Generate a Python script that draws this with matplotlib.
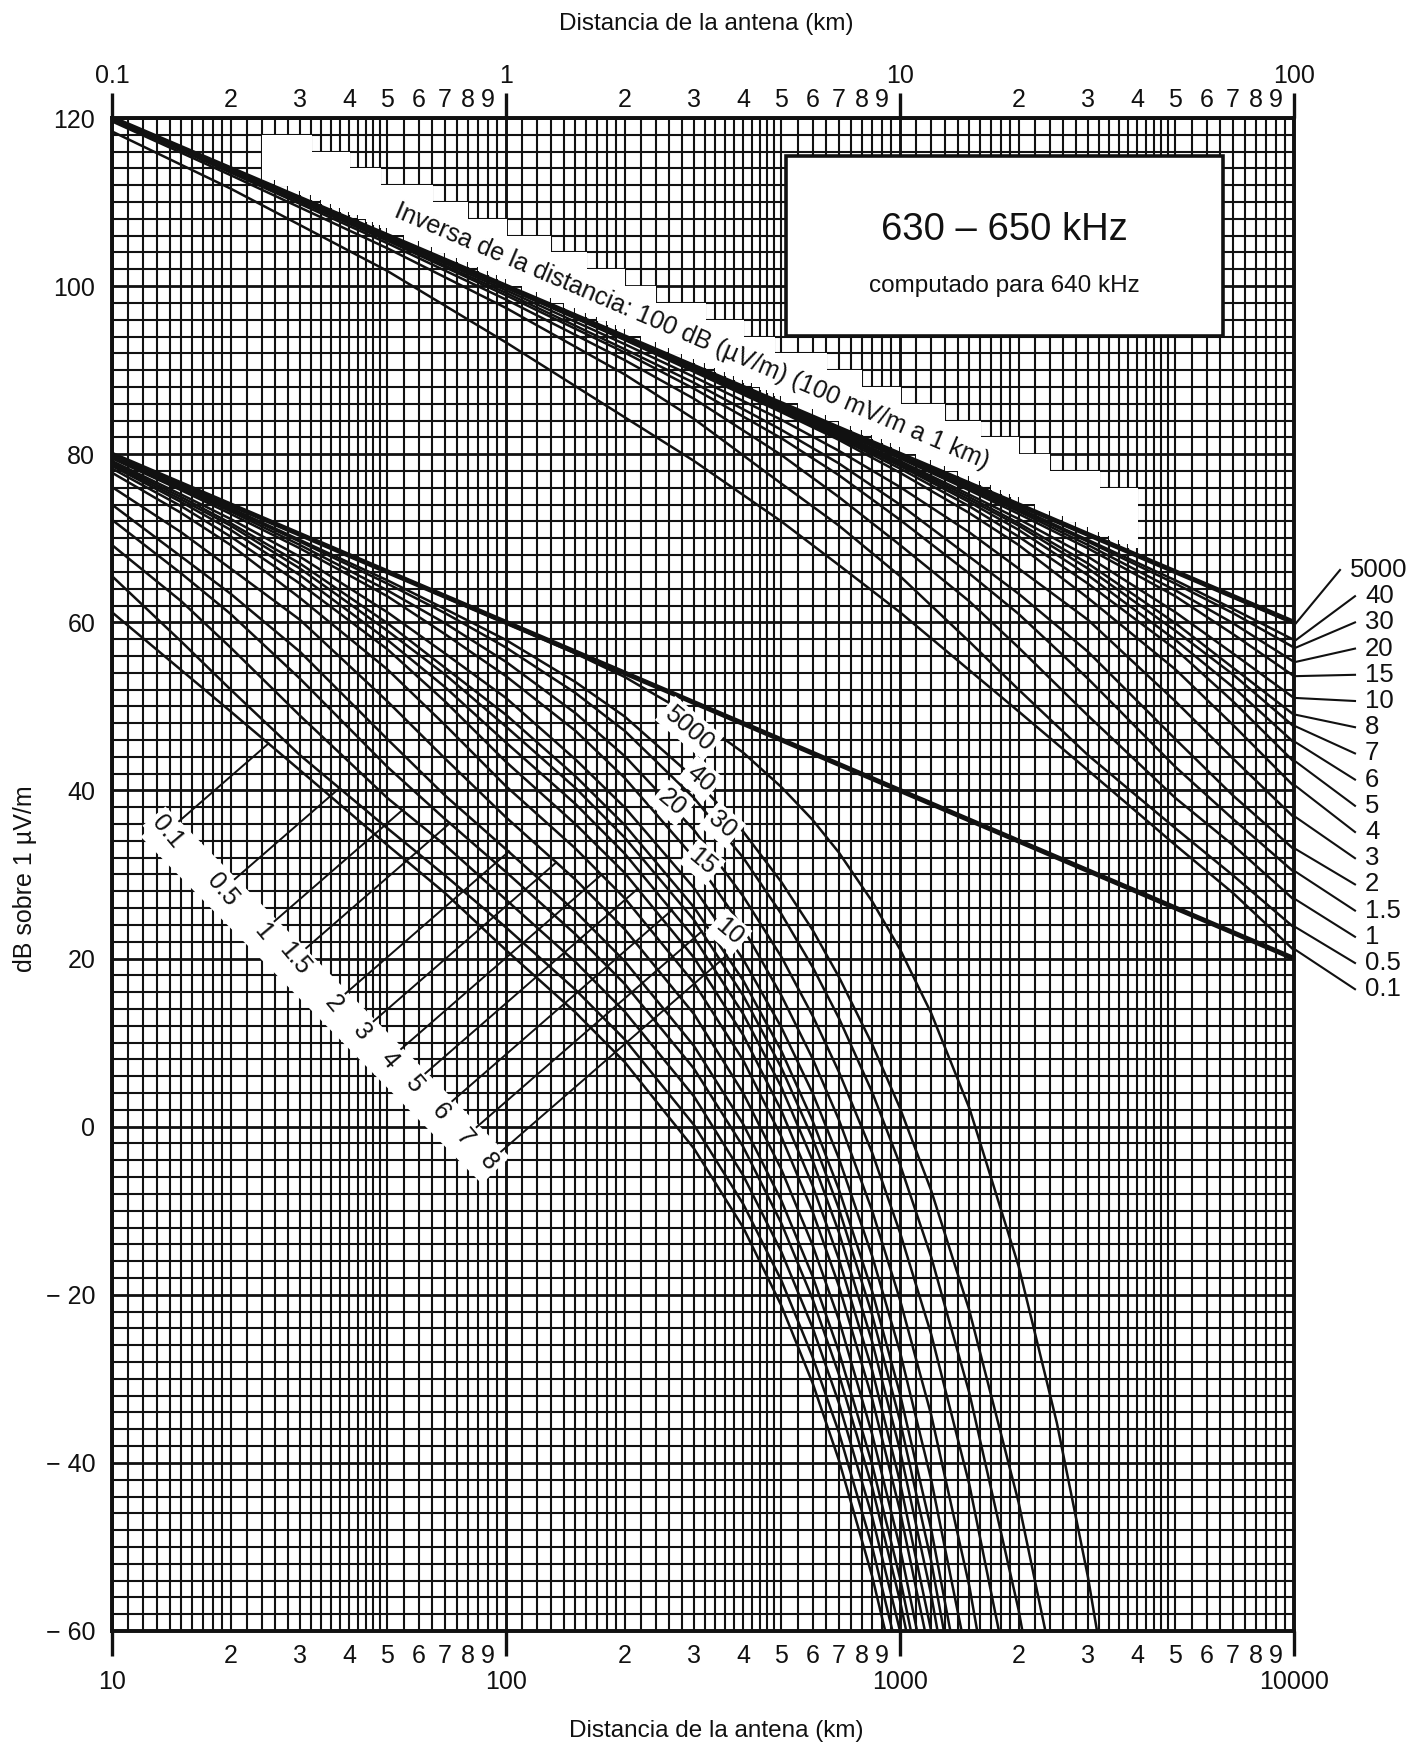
import numpy as np
import matplotlib
matplotlib.use("Agg")
import matplotlib.pyplot as plt
from matplotlib.lines import Line2D
from matplotlib.patches import Rectangle

plt.rcParams["font.family"] = ["Liberation Sans", "DejaVu Sans"]
INK = "#111111"
nan = float("nan")

# distance from the antenna (km); upper family uses 0.1-100, lower family 10-10000
dist_km = [0.1, 0.2, 0.5, 1, 2, 3, 5, 7, 10, 15, 20, 30, 50, 70, 100,
           150, 200, 300, 400, 500, 600, 700, 850, 1000, 1200, 1500, 2000, 2500, 3000, 3500]

# field strength, dB above 1 uV/m, one list per ground conductivity (mS/m)
e_5000 = [120.0, 114.0, 106.0, 100.0, 94.0, 90.5, 86.0, 83.1, 80.0, 76.5, 74.0, 70.4, 66.0, 63.0, 59.9,
          56.3, 53.5, 48.7, 44.5, 40.4, 36.5, 32.6, 26.8, 21.1, 13.5, 2.2, -16.6, -35.2, -53.6, -72.3]
e_40 = [120.0, 114.0, 106.0, 100.0, 93.9, 90.4, 85.9, 83.0, 79.8, 76.2, 73.6, 69.8, 65.0, 61.6, 57.9,
        52.9, 48.8, 41.5, 35.1, 29.1, 23.4, 17.8, 9.8, 2.2, -7.6, -21.9, -44.7, -66.5] + [nan] * 2
e_30 = [120.0, 114.0, 106.0, 100.0, 93.9, 90.4, 85.9, 82.9, 79.7, 76.1, 73.4, 69.6, 64.6, 61.1, 57.0,
        51.6, 47.1, 39.1, 32.0, 25.3, 19.0, 12.9, 4.1, -4.5, -15.5, -31.7, -57.5, -82.7] + [nan] * 2
e_20 = [120.0, 114.0, 106.0, 100.0, 93.9, 90.3, 85.8, 82.8, 79.6, 75.9, 73.2, 69.2, 63.8, 59.9, 55.3,
        49.2, 44.1, 35.3, 27.4, 20.2, 13.2, 6.5, -3.1, -12.6, -24.7, -42.6, -71.6] + [nan] * 3
e_15 = [120.0, 114.0, 106.0, 99.9, 93.9, 90.3, 85.7, 82.7, 79.5, 75.7, 72.9, 68.8, 63.1, 58.6, 53.6,
        47.1, 41.5, 32.0, 23.6, 15.6, 8.1, 0.8, -10.0, -20.6, -34.3, -54.7, -88.0] + [nan] * 3
e_10 = [120.0, 114.0, 106.0, 99.9, 93.8, 90.2, 85.6, 82.5, 79.2, 75.2, 72.3, 67.8, 61.2, 56.3, 51.0,
        43.7, 38.0, 28.4, 19.9, 11.8, 4.0, -3.8, -15.4, -26.8, -42.0, -64.6] + [nan] * 4
e_8 = [120.0, 114.0, 106.0, 99.9, 93.8, 90.2, 85.5, 82.4, 79.0, 74.9, 71.8, 67.0, 59.9, 54.6, 49.0,
       41.7, 35.9, 26.1, 17.4, 9.0, 0.7, -7.5, -19.6, -31.8, -47.9, -72.0] + [nan] * 4
e_7 = [120.0, 114.0, 106.0, 99.9, 93.7, 90.1, 85.4, 82.3, 78.8, 74.6, 71.5, 66.4, 59.0, 53.8, 47.6,
       40.3, 34.4, 24.6, 15.6, 7.0, -1.4, -9.8, -22.4, -35.0, -51.7, -76.7] + [nan] * 4
e_6 = [120.0, 114.0, 106.0, 99.9, 93.7, 90.1, 85.3, 82.1, 78.6, 74.3, 71.0, 65.6, 57.9, 52.3, 45.7,
       38.4, 32.5, 22.5, 13.4, 4.7, -4.0, -12.6, -25.6, -38.5, -55.7, -81.5] + [nan] * 4
e_5 = [120.0, 114.0, 105.9, 99.8, 93.7, 90.0, 85.2, 81.9, 78.3, 73.8, 70.2, 64.6, 56.8, 50.6, 43.4,
       36.0, 30.2, 20.1, 10.9, 1.9, -7.0, -15.8, -29.0, -42.3, -60.0, -86.5] + [nan] * 4
e_4 = [120.0, 113.9, 105.9, 99.8, 93.6, 89.8, 85.0, 81.7, 77.8, 73.0, 69.2, 62.9, 54.4, 47.8, 40.5,
       33.1, 27.2, 17.1, 7.9, -1.2, -10.1, -19.0, -32.4, -45.7, -63.6] + [nan] * 5
e_3 = [120.0, 113.8, 105.7, 99.5, 93.1, 89.2, 84.1, 80.4, 76.1, 70.7, 66.4, 60.3, 50.6, 43.8, 36.8,
       29.4, 23.5, 13.4, 4.0, -5.1, -14.1, -23.0, -36.6, -50.1, -68.2] + [nan] * 5
e_2 = [119.9, 113.8, 105.5, 99.2, 92.5, 88.5, 82.9, 78.9, 74.0, 67.8, 63.4, 56.5, 46.1, 39.4, 33.0,
       25.6, 19.7, 9.6, 0.3, -8.8, -17.8, -26.8, -40.2, -53.7, -71.7] + [nan] * 5
e_1_5 = [119.9, 113.7, 105.4, 98.9, 92.1, 87.8, 81.9, 77.5, 72.2, 65.8, 61.0, 53.3, 42.8, 36.6, 30.3,
         22.9, 17.0, 6.9, -2.4, -11.5, -20.5, -29.5, -42.9, -56.4, -74.4] + [nan] * 5
e_1 = [119.8, 113.5, 105.1, 98.4, 91.2, 86.6, 79.9, 74.9, 69.2, 62.5, 57.0, 48.9, 39.1, 33.5, 27.0,
       19.6, 13.7, 3.6, -5.8, -14.9, -23.9, -32.9, -46.4, -60.0, -78.1] + [nan] * 5
e_0_5 = [119.6, 113.2, 104.5, 97.4, 89.5, 84.2, 76.5, 71.5, 65.5, 57.7, 52.0, 44.2, 35.5, 29.9, 23.7,
         16.3, 10.4, 0.2, -9.2, -18.3, -27.4, -36.4, -50.0, -63.7] + [nan] * 6
e_0_1 = [118.4, 111.6, 101.8, 93.3, 84.4, 79.2, 72.0, 66.8, 61.2, 54.3, 49.4, 42.4, 33.5, 27.8, 21.0,
         13.6, 7.7, -2.6, -12.0, -21.3, -30.5, -39.7, -53.5, -67.4] + [nan] * 6

cond_labels = ["5000", "40", "30", "20", "15", "10", "8", "7", "6", "5", "4", "3", "2", "1.5", "1", "0.5", "0.1"]
cond_values = [e_5000, e_40, e_30, e_20, e_15, e_10, e_8, e_7, e_6, e_5, e_4, e_3, e_2, e_1_5, e_1, e_0_5, e_0_1]

# inverse-distance reference: 100 dB(uV/m) at 1 km
inv_top_km = [0.1, 100]
inv_top_db = [120, 60]
inv_bottom_km = [10, 10000]
inv_bottom_db = [80, 20]

# tags along the lower family
left_tags = [("0.1", 13.8, 35.1), ("0.5", 19.1, 28.2), ("1", 24.1, 23.2), ("1.5", 29.0, 20.0),
             ("2", 36.5, 14.6), ("3", 43.0, 11.3), ("4", 50.5, 8.0), ("5", 58.2, 5.1),
             ("6", 68.1, 1.8), ("7", 78.5, -1.3), ("8", 90.6, -4.2)]
mid_tags = [("5000", 292, 47.4), ("40", 311, 41.4), ("30", 354, 35.9), ("20", 264, 38.5),
            ("15", 315, 31.5), ("10", 368, 23.2)]

curves = dict(zip(cond_labels, [np.array(v) for v in cond_values]))
d = np.array(dist_km)

W, H = 1412, 1743
fig = plt.figure(figsize=(W / 100, H / 100), dpi=100)
ax = fig.add_axes([112 / W, 1 - 1631 / H, (1294 - 112) / W, (1631 - 118) / H])
ax.set_xscale("log")
ax.set_xlim(10, 10000)
ax.set_ylim(-60, 120)
ax_top = ax.twiny()
ax_top.set_xscale("log")
ax_top.set_xlim(0.1, 100)


def paper_lines(decades):
    xs = []
    for base in decades:
        xs.extend(base * np.arange(1.0, 1.95, 0.1))
        xs.extend(base * np.arange(2.0, 4.95, 0.2))
        xs.extend(base * np.arange(5.0, 9.95, 0.5))
    return xs


# log-log graph paper
for x in paper_lines([10, 100, 1000]):
    decade = abs(np.log10(x) - round(np.log10(x))) < 1e-9
    ax.axvline(x, color=INK, lw=2.1 if decade else 1.5, zorder=1)
for y in range(-60, 121, 2):
    ax.axhline(y, color=INK, lw=2.0 if y % 20 == 0 else 1.5, zorder=1)

# axes, ticks and tick labels
for a in (ax, ax_top):
    for s in a.spines.values():
        s.set_linewidth(2.6)
        s.set_color(INK)

ax.set_xticks([10, 100, 1000, 10000], ["10", "100", "1000", "10000"])
ax.set_xticks([m * b for b in (10, 100, 1000) for m in range(2, 10)],
              [str(m) for b in (10, 100, 1000) for m in range(2, 10)], minor=True)
ax_top.set_xticks([0.1, 1, 10, 100], ["0.1", "1", "10", "100"])
ax_top.set_xticks([m * b for b in (0.1, 1, 10) for m in range(2, 10)],
                  [str(m) for b in (0.1, 1, 10) for m in range(2, 10)], minor=True)
yt = list(range(-60, 121, 20))
ax.set_yticks(yt, [str(v) if v >= 0 else "\u2212 " + str(-v) for v in yt])

ax.tick_params(axis="x", which="major", direction="out", length=18, width=2.4,
               pad=10, labelsize=18, colors=INK)
ax.tick_params(axis="x", which="minor", length=0, pad=9.5, labelsize=18, colors=INK)
ax_top.tick_params(axis="x", which="major", direction="out", length=18, width=2.4,
                   pad=3.5, labelsize=18, colors=INK)
ax_top.tick_params(axis="x", which="minor", length=0, pad=4, labelsize=18, colors=INK)
ax.tick_params(axis="y", length=0, pad=12, labelsize=18, colors=INK)


def inv_db(km):
    return 100 - 20 * np.log10(km)


# white strip behind the inverse-distance caption
cells = [x for x in paper_lines([0.1, 1, 10]) if 0.23 <= x <= 41]
for xa, xb in zip(cells[:-1], cells[1:]):
    lo = inv_db(xb) + 0.9
    hi = np.floor((inv_db(xa) + 7.6) / 2) * 2
    ax_top.add_patch(Rectangle((xa, lo), xb * 1.003 - xa, hi - lo, fc="white", ec="none", zorder=2))

# curves: upper family (top scale) and lower family (bottom scale)
for lab in cond_labels:
    v = curves[lab]
    low = d >= 10
    ax.plot(d[low], v[low], color=INK, lw=1.8, zorder=3)
    up = d <= 100
    ax_top.plot(d[up], v[up], color=INK, lw=1.8, zorder=3)
ax.plot(inv_bottom_km, inv_bottom_db, color=INK, lw=3.6, zorder=3.5, solid_capstyle="butt")
ax_top.plot(inv_top_km, inv_top_db, color=INK, lw=3.6, zorder=3.5, solid_capstyle="butt")

p1 = ax_top.transData.transform((1, inv_db(1)))
p2 = ax_top.transData.transform((10, inv_db(10)))
band_ang = np.degrees(np.arctan2(p2[1] - p1[1], p2[0] - p1[0]))
ax_top.text(2.96, inv_db(2.96) + 3.5,
            "Inversa de la distancia: 100 dB (\u00b5V/m) (100 mV/m a 1 km)",
            rotation=band_ang, rotation_mode="anchor", ha="center", va="center",
            fontsize=18, color=INK, zorder=4)

# frequency box
ax_top.add_patch(Rectangle((0.570, 0.856), 0.370, 0.119, transform=ax_top.transAxes,
                           fc="white", ec=INK, lw=2.6, zorder=5))
ax_top.text(0.755, 0.926, "630 \u2013 650 kHz", transform=ax_top.transAxes, fontsize=27.5,
            ha="center", va="center", color=INK, zorder=6)
ax_top.text(0.755, 0.889, "computado para 640 kHz", transform=ax_top.transAxes, fontsize=17.5,
            ha="center", va="center", color=INK, zorder=6)

# lower-left conductivity tags with leader lines
xs_tag = [t[1] for t in left_tags]
ys_tag = [t[2] for t in left_tags]
ax.plot([xs_tag[0] * 0.93, xs_tag[-1] * 1.04], [ys_tag[0] + 1.0, ys_tag[-1] - 1.0],
        color="white", lw=28, solid_capstyle="butt", zorder=2.5)
lead = np.radians(41)
unit = np.array([np.cos(lead), np.sin(lead)])
for lab, x0, y0 in left_tags:
    v = curves[lab]
    ok = ~np.isnan(v)
    p0 = ax.transData.transform((x0, y0)) + 15 * unit
    ts = np.arange(0, 900, 0.5)
    pts = p0 + ts[:, None] * unit
    dat = ax.transData.inverted().transform(pts)
    cy = np.interp(np.log10(dat[:, 0]), np.log10(d[ok]), v[ok])
    hit = np.argmax(dat[:, 1] >= cy)
    start = ax.transData.inverted().transform(p0)
    ax.plot([start[0], dat[hit, 0]], [start[1], dat[hit, 1]], color=INK, lw=1.4, zorder=3)
    ax.text(x0, y0, lab, rotation=-50, ha="center", va="center", fontsize=18, color=INK,
            zorder=6, bbox=dict(boxstyle="square,pad=0.12", fc="white", ec="none"))

for lab, x0, y0 in mid_tags:
    ax.text(x0, y0, lab, rotation=-40, ha="center", va="center", fontsize=18, color=INK,
            zorder=6, bbox=dict(boxstyle="square,pad=0.15", fc="white", ec="none"))

# right-hand tags for the upper family, with leaders to the curve ends
i100 = int(np.where(d == 100)[0][0])
for i, lab in enumerate(cond_labels):
    ypx = 570 + 26.2 * i
    xpx = 1350 if lab == "5000" else 1365
    fig.text(xpx / W, 1 - ypx / H, lab, fontsize=18.5, ha="left", va="center", color=INK)
    end = ax_top.transData.transform((100, curves[lab][i100]))
    fig.add_artist(Line2D([(xpx - 10) / W, (end[0] + 2) / W], [1 - ypx / H, end[1] / H],
                          transform=fig.transFigure, color=INK, lw=1.5))

fig.text(0.5, 0.986, "Distancia de la antena (km)", ha="center", va="center", fontsize=17.5, color=INK)
fig.text(0.507, 0.007, "Distancia de la antena (km)", ha="center", va="center", fontsize=17.5, color=INK)
fig.text(0.0175, 0.496, "dB sobre 1 \u00b5V/m", rotation=90, ha="center", va="center",
         fontsize=18, color=INK)

fig.savefig("out.png", dpi=100)
